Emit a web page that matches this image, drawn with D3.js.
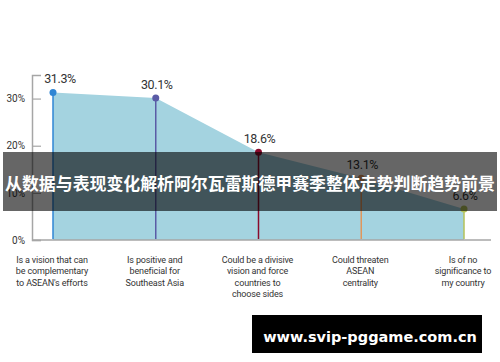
<!DOCTYPE html>
<html>
<head>
<meta charset="utf-8">
<script src="https://cdn.jsdelivr.net/npm/d3@7"></script>
<style>
  body { margin: 0; background: #fff; }
  svg { display: block; }
</style>
</head>
<body>
<div id="chart"></div>
<script>
var WD = 500, HT = 362

// data
var categories = [
  ["Is a vision that can", "be complementary", "to ASEAN's efforts"],
  ["Is positive and", "beneficial for", "Southeast Asia"],
  ["Could be a divisive", "vision and force", "countries to", "choose sides"],
  ["Could threaten", "ASEAN", "centrality"],
  ["Is of no", "significance to", "my country"]
]
var values = [31.3, 30.1, 18.6, 13.1, 6.6]
var yTicks = [0, 10, 20, 30]
var stemColors = ['#2f86d4', '#5a5ba6', '#8a0a2c', '#e0965c', '#b4c25a']
var bannerText = "从数据与表现变化解析阿尔瓦雷斯德甲赛季整体走势判断趋势前景"
var watermark = "www.svip-pggame.com.cn"

var keys = categories.map(function(d, i){ return i; })

var x = d3.scalePoint().domain(keys).range([53, 464])
var y = d3.scaleLinear().domain([0, 35]).range([240, 75])

var svg = d3.select("#chart")
            .append("svg")
                .attr("width", WD)
                .attr("height", HT)

// area under the line
var area = d3.area()
    .x(function(d, i){ return x(i); })
    .y0(y(0))
    .y1(function(d){ return y(d); })

svg.append("path")
    .datum(values)
    .attr("d", area)
    .attr("fill", "#a4d3e0")

// y axis
var yAxis = d3.axisLeft(y)
    .tickValues(yTicks)
    .tickSize(-9)
    .tickPadding(7)
    .tickFormat(function(d){ return d + "%"; })

var gy = svg.append("g")
    .attr("transform", "translate(32,0)")
    .call(yAxis)
gy.select(".domain").attr("stroke", "#a6a6a6").attr("stroke-width", 1.5)
gy.selectAll(".tick line").attr("stroke", "#a6a6a6").attr("stroke-width", 1.2)
gy.selectAll(".tick text")
    .attr("fill", "#333")
    .style("font-family", "Roboto, sans-serif")
    .style("font-size", "10px")

// baseline
svg.append("line")
    .attr("x1", 32).attr("x2", 491)
    .attr("y1", y(0)).attr("y2", y(0))
    .attr("stroke", "#a6a6a6")
    .attr("stroke-width", 1.5)

// stems and points
svg.selectAll(".stem")
    .data(values)
    .enter()
    .append("line")
        .attr("class", "stem")
        .attr("x1", function(d, i){ return x(i); })
        .attr("x2", function(d, i){ return x(i); })
        .attr("y1", y(0) - 1)
        .attr("y2", function(d){ return y(d); })
        .attr("stroke", function(d, i){ return stemColors[i]; })
        .attr("stroke-width", 1.5)

svg.selectAll(".dot")
    .data(values)
    .enter()
    .append("circle")
        .attr("class", "dot")
        .attr("cx", function(d, i){ return x(i); })
        .attr("cy", function(d){ return y(d); })
        .attr("r", 3.5)
        .attr("fill", function(d, i){ return stemColors[i]; })

// value labels
svg.selectAll(".val")
    .data(values)
    .enter()
    .append("text")
        .attr("class", "val")
        .attr("x", function(d, i){ return x(i) + (i == 0 ? 7 : 1); })
        .attr("y", function(d){ return y(d) - 9; })
        .attr("text-anchor", "middle")
        .attr("fill", "#333")
        .style("font-family", "Roboto, sans-serif")
        .style("font-size", "12.5px")
        .style("letter-spacing", "-0.4px")
        .text(function(d){ return d.toFixed(1) + "%"; })

// category labels
var cat = svg.selectAll(".cat")
    .data(categories)
    .enter()
    .append("text")
        .attr("class", "cat")
        .attr("text-anchor", "middle")
        .attr("fill", "#333")
        .style("font-family", "Roboto, sans-serif")
        .style("font-size", "9px")
        .style("letter-spacing", "-0.15px")

cat.selectAll("tspan")
    .data(function(d, i){ return d.map(function(s){ return { s: s, i: i }; }); })
    .enter()
    .append("tspan")
        .attr("x", function(d){ return x(d.i) - 1; })
        .attr("y", function(d, j){ return 262.5 + j * 11.6; })
        .text(function(d){ return d.s; })

// banner overlay
svg.append("rect")
    .attr("x", 3).attr("y", 152)
    .attr("width", 494).attr("height", 59)
    .attr("fill", "rgba(0,0,0,0.6)")

svg.append("text")
    .attr("x", 250).attr("y", 189.5)
    .attr("text-anchor", "middle")
    .attr("fill", "#fff")
    .style("font-family", "'Noto Sans CJK SC', sans-serif")
    .style("font-weight", "bold")
    .style("font-size", "16.9px")
    .text(bannerText)

// watermark
svg.append("rect")
    .attr("x", 252).attr("y", 315)
    .attr("width", 230).attr("height", 38)
    .attr("fill", "#000")

svg.append("text")
    .attr("x", 370).attr("y", 342)
    .attr("text-anchor", "middle")
    .attr("fill", "#fff")
    .style("font-family", "'DejaVu Sans', sans-serif")
    .style("font-weight", "bold")
    .style("font-size", "14.5px")
    .text(watermark)
</script>
</body>
</html>
